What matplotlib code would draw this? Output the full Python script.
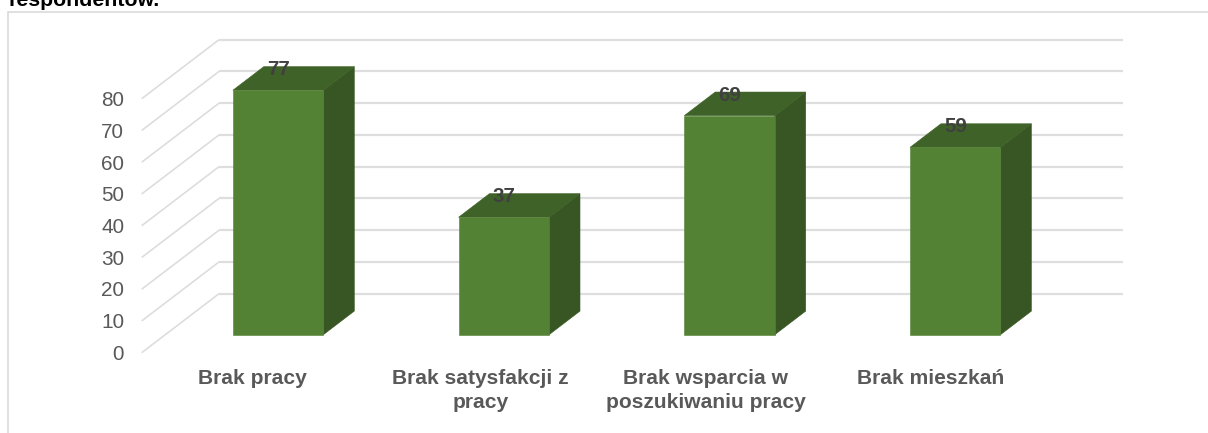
import matplotlib
matplotlib.use("Agg")
import matplotlib.pyplot as plt
from matplotlib.patches import Polygon

categories = ["Brak pracy", "Brak satysfakcji z\npracy", "Brak wsparcia w\nposzukiwaniu pracy", "Brak mieszkań"]
values = [77, 37, 69, 59]
y_ticks = [0, 10, 20, 30, 40, 50, 60, 70, 80]
title_tail = "respondentów."

W, H = 1208, 433
plt.rcParams["font.family"] = ["Liberation Sans", "DejaVu Sans"]
fig = plt.figure(figsize=(W / 100, H / 100), dpi=100)
ax = fig.add_axes([0, 0, 1, 1])
ax.set_xlim(0, W)
ax.set_ylim(H, 0)
ax.axis("off")
px = 72 / 100

# oblique projection scales
X0, Y0 = 141.7, 352.7      # front-left floor corner
UNIT_Y = 3.175             # pixels per value unit
CAT_W = 225.7              # pixels per category
DX, DY = 77.3, -59.0       # full floor depth
BAR_W = 90.5
BAR_DEPTH = (0.305, 0.705) # bar's depth range on the floor
LABEL_OFFSETS = [-2.5, 0.5, 0, -1]


def P(cat, depth, val):
    return (X0 + cat * CAT_W + depth * DX, Y0 + depth * DY - val * UNIT_Y)


# outer frame and title fragment
ax.plot([8, 8, W], [H, 11.5, 11.5], color="#d9d9d9", lw=1.6 * px, solid_joinstyle="miter")
ax.text(8, 6, title_tail, fontsize=21.3 * px, fontweight="bold", color="#000000",
        ha="left", va="baseline", clip_on=False)

# gridlines and axis labels
GRID_END = 1123
for t in y_ticks:
    a = P(0, 0, t)
    b = P(0, 1, t)
    ax.plot([a[0], b[0]], [a[1], b[1]], color="#dcdcdc", lw=1.6 * px, solid_capstyle="butt", zorder=1)
    ax.plot([b[0], GRID_END], [b[1], b[1]], color="#dedede", lw=2.2 * px, solid_capstyle="butt", zorder=1)
    ax.text(124, a[1] - 0.2, str(t), fontsize=20.8 * px, color="#595959", ha="right", va="center_baseline")

# bars
FRONT = "#548235"
TOP = "#3f6228"
SIDE = "#375623"
d0, d1 = BAR_DEPTH
for i, (name, v) in enumerate(zip(categories, values)):
    c = i + 0.5
    half = BAR_W / 2 / CAT_W
    fl, fr = c - half, c + half
    front = [P(fl, d0, 0), P(fr, d0, 0), P(fr, d0, v), P(fl, d0, v)]
    side = [P(fr, d0, 0), P(fr, d1, 0), P(fr, d1, v), P(fr, d0, v)]
    top = [P(fl, d0, v), P(fr, d0, v), P(fr, d1, v), P(fl, d1, v)]
    ax.add_patch(Polygon(side, closed=True, fc=SIDE, ec=SIDE, lw=0.4, zorder=3))
    ax.add_patch(Polygon(top, closed=True, fc=TOP, ec=TOP, lw=0.4, zorder=3))
    ax.add_patch(Polygon(front, closed=True, fc=FRONT, ec=FRONT, lw=0.4, zorder=4))
    lx, ly = P(c, d0, v)
    ax.text(lx + 0.5, ly - 22.5, str(v), fontsize=20.5 * px, fontweight="bold", color="#404040",
            ha="center", va="center_baseline", zorder=5)
    tx = P(c, 0, 0)[0]
    ax.text(tx + LABEL_OFFSETS[i], 369.5, name, fontsize=21 * px, fontweight="bold", color="#595959",
            ha="center", va="top", linespacing=1.32, zorder=5)

fig.savefig("out.png", dpi=100)
